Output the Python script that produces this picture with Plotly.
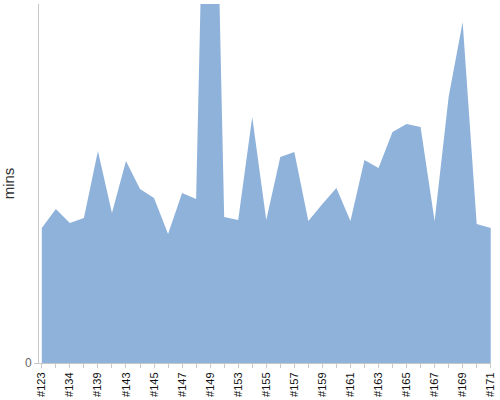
import plotly.graph_objects as go

# build ids, every other one is labelled on the axis
builds = ['#123', '#130', '#134', '#137', '#139', '#141', '#143', '#144', '#145', '#146',
          '#147', '#148', '#149', '#151', '#153', '#154', '#155', '#156', '#157', '#158',
          '#159', '#160', '#161', '#162', '#163', '#164', '#165', '#166', '#167', '#168',
          '#169', '#170', '#171']

durations = [13.5, 15.4, 14.0, 14.5, 21.2, 15.0, 20.2, 17.4, 16.5, 12.9,
             17.0, 16.4, 79.3, 14.6, 14.3, 24.6, 14.3, 20.6, 21.1, 14.2,
             15.9, 17.5, 14.2, 20.3, 19.5, 23.1, 23.9, 23.6, 14.2, 26.6,
             34.1, 13.9, 13.5]

tick_text = [b if i % 2 == 0 else '' for i, b in enumerate(builds)]

fig = go.Figure()
fig.add_trace(go.Scatter(
    x=builds,
    y=durations,
    mode='lines',
    fill='tozeroy',
    fillcolor='#8fb2db',
    line=dict(color='#8fb2db', width=0),
    hoverinfo='x+y',
))

fig.update_layout(
    width=500,
    height=400,
    template='plotly_white',
    showlegend=False,
    plot_bgcolor='white',
    paper_bgcolor='white',
    margin=dict(l=39, r=9, t=4, b=37, autoexpand=False),
    font=dict(family='Liberation Sans, Arial, sans-serif', size=11, color='#222'),
    xaxis=dict(
        type='category',
        automargin=False,
        range=[-0.2, 32.02],
        tickmode='array',
        tickvals=builds,
        ticktext=tick_text,
        tickangle=-90,
        ticks='outside',
        ticklen=4,
        tickcolor='#c8c8c8',
        showgrid=False,
        showline=True,
        linecolor='#c8c8c8',
        linewidth=1,
        zeroline=False,
        tickfont=dict(size=11, color='#111'),
    ),
    yaxis=dict(
        automargin=False,
        range=[0, 35.9],
        tickmode='array',
        tickvals=[0],
        ticktext=['0'],
        ticks='outside',
        ticklen=4,
        tickcolor='#c8c8c8',
        showgrid=False,
        showline=True,
        linecolor='#c8c8c8',
        linewidth=1,
        zeroline=False,
        tickfont=dict(size=12, color='#666'),
        title=dict(text='mins', font=dict(size=15, color='#333'), standoff=8),
    ),
)

# page body has a default 8px margin, drop it so the chart sits at 0,0
fig.write_html("out.html", config={'displayModeBar': False},
               post_script="document.body.style.margin='0';")
